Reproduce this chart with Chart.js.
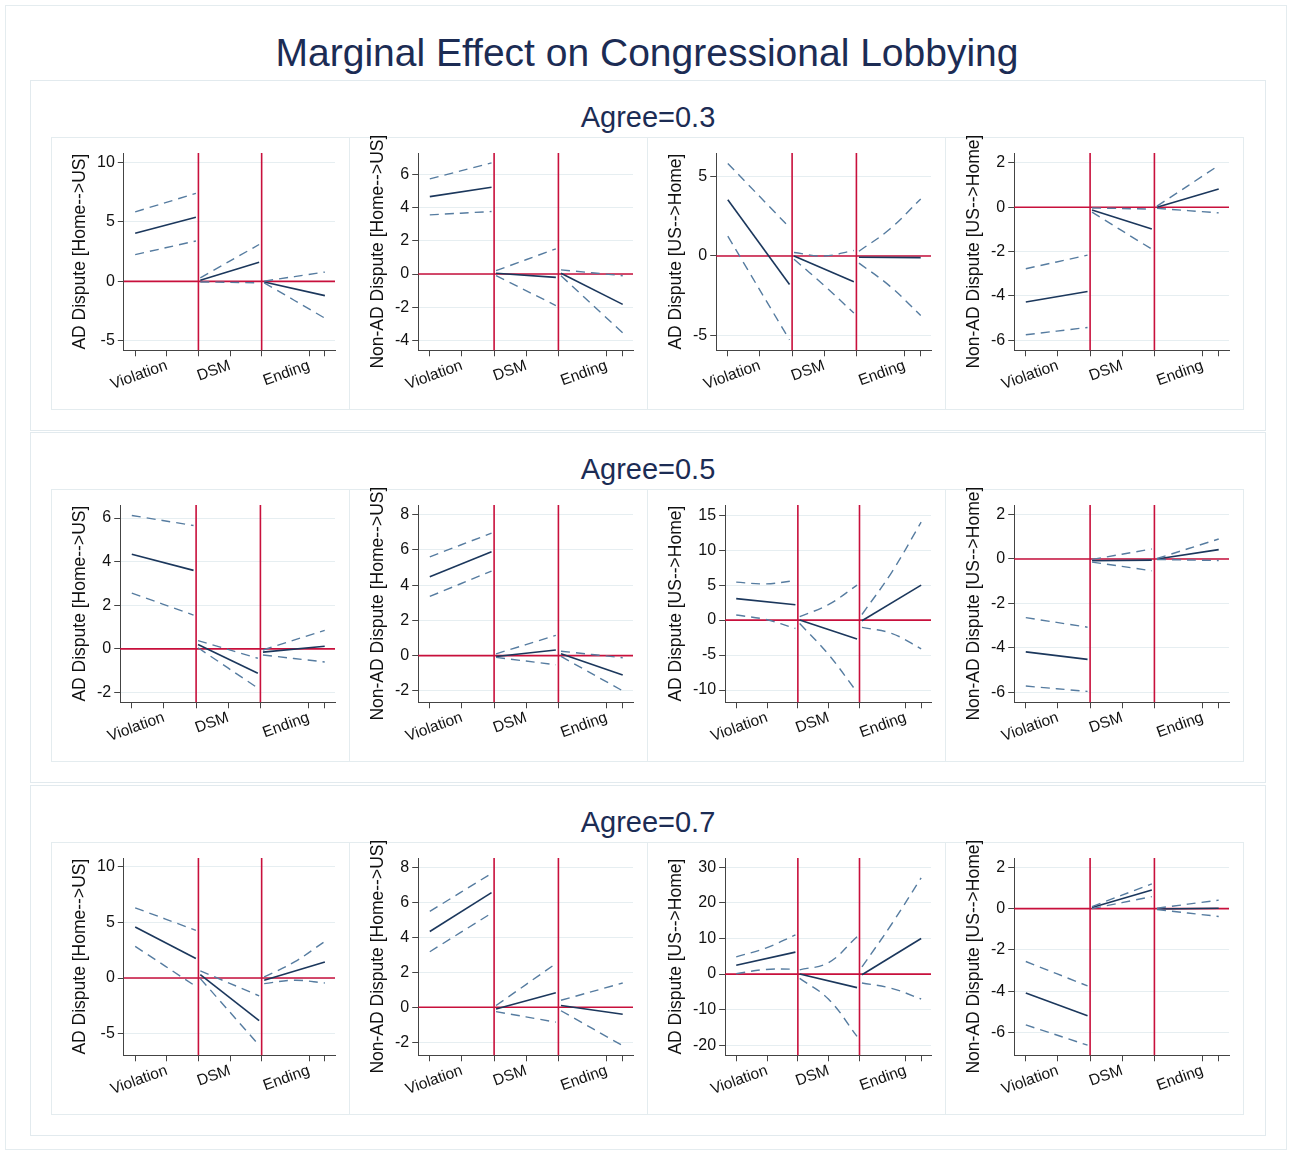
<!DOCTYPE html>
<html>
<head>
<meta charset="utf-8">
<title>Marginal Effect on Congressional Lobbying</title>
<script src="https://cdn.jsdelivr.net/npm/chart.js@4.4.1/dist/chart.umd.min.js"></script>
<style>
  body { margin: 0; background: #fff; font-family: "Liberation Sans", Arial, sans-serif; }
  #page { position: relative; width: 1290px; height: 1153px; overflow: hidden; }
  #frame { position: absolute; left: 5px; top: 5px; width: 1280px; height: 1143px; border: 1px solid #e4ecef; }
  h1 { position: absolute; top: 31px; left: 0; width: 1294px; margin: 0; text-align: center;
       font-weight: normal; font-size: 39px; color: #1c2c54; }
  .row { position: absolute; left: 30px; width: 1234px; height: 349px; border: 1px solid #e2eaee; }
  .row h2 { position: absolute; top: 20px; left: 0; width: 1234px; margin: 0; text-align: center;
            font-weight: normal; font-size: 29px; color: #1c2c54; }
  .panel { position: absolute; top: 56px; width: 297px; height: 271px; border: 1px solid #e4ecef; }
  .panel canvas { position: absolute; left: 0; top: -8px; }
</style>
</head>
<body>
<div id="page">
  <div id="frame"></div>
  <h1>Marginal Effect on Congressional Lobbying</h1>
</div>
<script>
// ---- data ----
const agreeLevels = ["Agree=0.3", "Agree=0.5", "Agree=0.7"];
const panelTitles = [
  "AD Dispute [Home-->US]",
  "Non-AD Dispute [Home-->US]",
  "AD Dispute [US-->Home]",
  "Non-AD Dispute [US-->Home]",
];

// x ticks: stages of the dispute
const xTickValues = [0, 0.5, 1, 1.5, 2, 2.75, 3];
const xTickLabels = ["", "Violation", "", "DSM", "", "Ending", ""];
const breakPoints = [1, 2];
// start / end of each stage segment on the x scale
const segX = [[0, 0.96], [1.03, 1.96], [2.04, 3]];

// y axis ticks and range, one per panel (row by row)
const yTicks = [
  [-5, 0, 5, 10], [-4, -2, 0, 2, 4, 6], [-5, 0, 5], [-6, -4, -2, 0, 2],
  [-2, 0, 2, 4, 6], [-2, 0, 2, 4, 6, 8], [-10, -5, 0, 5, 10, 15], [-6, -4, -2, 0, 2],
  [-5, 0, 5, 10], [-2, 0, 2, 4, 6, 8], [-20, -10, 0, 10, 20, 30], [-6, -4, -2, 0, 2],
];
const yRange = [
  [-5.8, 10.8], [-4.6, 7.3], [-5.95, 6.5], [-6.45, 2.45],
  [-2.45, 6.6], [-2.65, 8.55], [-11.75, 16.45], [-6.45, 2.43],
  [-6.95, 10.8], [-2.75, 8.55], [-22.8, 32.6], [-7.1, 2.45],
];

// marginal effect (solid): [Violation, DSM, Ending] each [start, end]
const estimate = [
  [[4.05, 5.4], [0.1, 1.6], [-0.05, -1.2]],
  [[4.67, 5.23], [0.05, -0.2], [0.05, -1.83]],
  [[3.55, -1.8], [0.0, -1.63], [-0.08, -0.1]],
  [[-4.27, -3.8], [-0.12, -0.98], [0.0, 0.83]],
  [[4.34, 3.6], [0.2, -1.12], [-0.15, 0.12]],
  [[4.48, 5.9], [-0.05, 0.32], [0.1, -1.1]],
  [[3.07, 2.2], [0.0, -2.69], [-0.1, 5.0]],
  [[-4.18, -4.52], [-0.08, -0.05], [0.0, 0.42]],
  [[4.59, 1.76], [0.3, -3.83], [-0.2, 1.45]],
  [[4.34, 6.57], [-0.1, 0.83], [0.1, -0.4]],
  [[2.46, 6.16], [0.0, -3.8], [-0.2, 10.0]],
  [[-4.08, -5.19], [0.05, 0.9], [-0.02, 0.02]],
];

// upper confidence bound (dashed)
const upperCI = [
  [[5.85, 7.4], [0.3, 3.1], [0.02, 0.78]],
  [[5.74, 6.7], [0.2, 1.52], [0.25, -0.1]],
  [[5.84, 1.8], [0.22, 0.0, 0.35], [0.3, 1.7, 3.6]],
  [[-2.77, -2.16], [-0.03, -0.08], [0.05, 1.89]],
  [[6.12, 5.66], [0.38, -0.43], [-0.05, 0.85]],
  [[5.61, 6.95], [0.1, 1.15], [0.25, -0.12]],
  [[5.42, 5.18, 5.66], [0.5, 2.2, 5.0], [0.8, 6.8, 14.0]],
  [[-2.64, -3.07], [-0.02, 0.45], [0.02, 0.9]],
  [[6.32, 4.29], [0.65, -1.6], [0.1, 1.45, 3.3]],
  [[5.49, 7.67], [0.1, 2.5], [0.4, 1.39]],
  [[4.83, 7.3, 11.0], [1.2, 3.2, 10.5], [2.0, 14.0, 27.0]],
  [[-2.56, -3.74], [0.1, 1.2], [0.02, 0.41]],
];

// lower confidence bound (dashed)
const lowerCI = [
  [[2.25, 3.4], [-0.05, -0.12], [-0.12, -3.1]],
  [[3.57, 3.77], [-0.1, -1.9], [-0.1, -3.55]],
  [[1.25, -5.3], [-0.2, -1.85, -3.6], [-0.45, -1.9, -3.75]],
  [[-5.75, -5.42], [-0.22, -1.89], [-0.05, -0.25]],
  [[2.56, 1.55], [0.05, -1.8], [-0.28, -0.6]],
  [[3.36, 4.8], [-0.1, -0.52], [-0.05, -2.0]],
  [[0.72, 0.08, -1.2], [-0.5, -4.9, -10.3], [-1.05, -1.9, -4.1]],
  [[-5.72, -5.96], [-0.14, -0.53], [-0.02, -0.07]],
  [[2.85, -0.75], [-0.05, -6.05], [-0.5, -0.2, -0.45]],
  [[3.18, 5.39], [-0.25, -0.85], [-0.2, -2.2]],
  [[0.1, 1.3, 1.4], [-1.2, -7.0, -17.5], [-2.5, -4.0, -7.0]],
  [[-5.63, -6.61], [0.0, 0.58], [-0.05, -0.38]],
];

// ---- drawing ----
const FONT = "'Liberation Sans', Arial, sans-serif";
const SOLID = "#1b375c";
const DASHED = "#567ca0";
const RED = "#c8103c";

// spread a segment's values evenly over its x span
function toPoints(seg, vals) {
  const [x0, x1] = seg;
  return vals.map((v, i) => ({ x: x0 + (x1 - x0) * i / (vals.length - 1), y: v }));
}

const refLines = {
  id: "refLines",
  beforeDatasetsDraw(chart) {
    const { ctx, chartArea: a, scales: { x, y } } = chart;
    ctx.save();
    ctx.strokeStyle = RED;
    ctx.lineWidth = 1.6;
    ctx.beginPath();
    breakPoints.forEach((b) => {
      const px = x.getPixelForValue(b);
      ctx.moveTo(px, a.top);
      ctx.lineTo(px, a.bottom);
    });
    const py = y.getPixelForValue(0);
    ctx.moveTo(a.left, py);
    ctx.lineTo(a.right, py);
    ctx.stroke();
    ctx.restore();
  },
};

function makePanel(parent, p) {
  const canvas = document.createElement("canvas");
  canvas.width = 298;
  canvas.height = 280;
  parent.appendChild(canvas);

  const datasets = [];
  segX.forEach((seg, s) => {
    [upperCI[p][s], lowerCI[p][s]].forEach((vals) => {
      datasets.push({
        data: toPoints(seg, vals),
        borderColor: DASHED,
        borderWidth: 1.4,
        borderDash: [9, 6],
        tension: 0.4,
        pointRadius: 0,
      });
    });
    datasets.push({
      data: toPoints(seg, estimate[p][s]),
      borderColor: SOLID,
      borderWidth: 1.6,
      pointRadius: 0,
    });
  });

  new Chart(canvas.getContext("2d"), {
    type: "line",
    data: { datasets },
    options: {
      responsive: false,
      animation: false,
      layout: { padding: { left: 18, right: 15, top: 23, bottom: 16 } },
      plugins: { legend: { display: false }, tooltip: { enabled: false } },
      scales: {
        x: {
          type: "linear",
          min: -0.18,
          max: 3.16,
          afterBuildTicks: (axis) => {
            axis.ticks = xTickValues.map((v) => ({ value: v }));
          },
          ticks: {
            autoSkip: false,
            minRotation: 20,
            maxRotation: 20,
            padding: 0,
            color: "#111",
            font: { family: FONT, size: 15.5 },
            callback: (v, i) => xTickLabels[i],
          },
          grid: { drawOnChartArea: false, tickColor: "#444", tickLength: 6 },
          border: { color: "#444", width: 1 },
        },
        y: {
          min: yRange[p][0],
          max: yRange[p][1],
          afterBuildTicks: (axis) => {
            axis.ticks = yTicks[p].map((v) => ({ value: v }));
          },
          ticks: {
            padding: 3,
            color: "#111",
            font: { family: FONT, size: 16 },
          },
          grid: { color: "#e6eef1", tickColor: "#444", tickLength: 6 },
          border: { color: "#444", width: 1 },
          title: {
            display: true,
            text: panelTitles[p % 4],
            color: "#111",
            font: { family: FONT, size: 17.5 },
            padding: { top: 0, bottom: 3 },
          },
        },
      },
    },
    plugins: [refLines],
  });
}

const page = document.getElementById("page");
const rowTops = [80, 432, 785];
agreeLevels.forEach((label, r) => {
  const row = document.createElement("div");
  row.className = "row";
  row.style.top = rowTops[r] + "px";
  const h = document.createElement("h2");
  h.textContent = label;
  row.appendChild(h);
  page.appendChild(row);
  for (let c = 0; c < 4; c++) {
    const panel = document.createElement("div");
    panel.className = "panel";
    panel.style.left = 20 + c * 298 + "px";
    row.appendChild(panel);
    makePanel(panel, r * 4 + c);
  }
});
</script>
</body>
</html>
